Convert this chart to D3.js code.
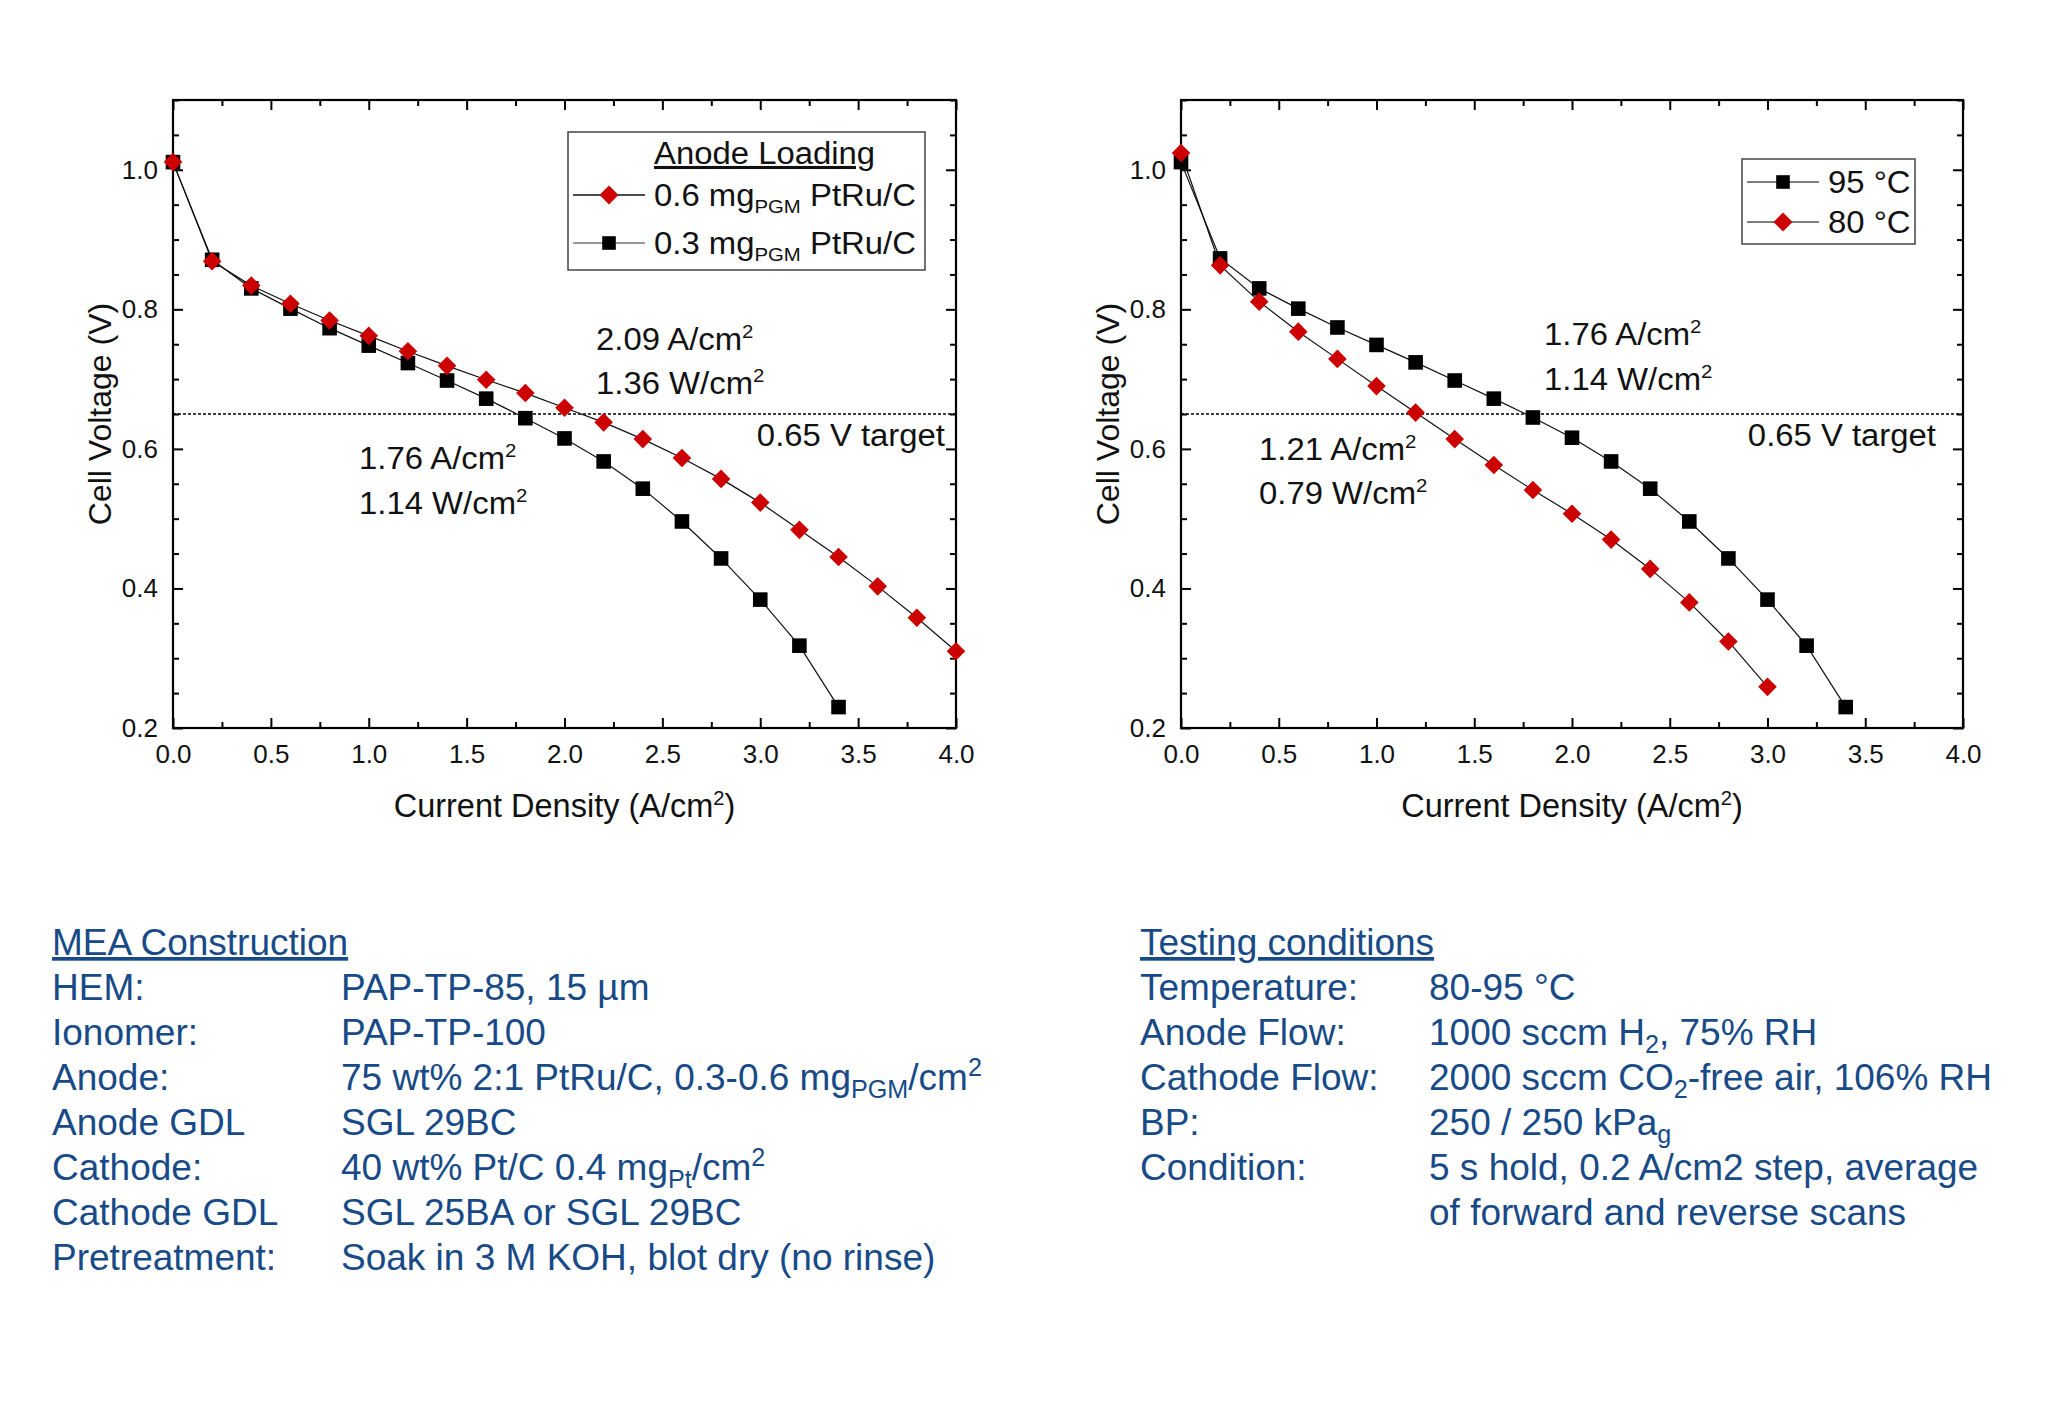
<!DOCTYPE html>
<html>
<head>
<meta charset="utf-8">
<script src="https://cdn.jsdelivr.net/npm/d3@7"></script>
<style>
  body { margin: 0; background: #fff; }
  svg text { font-family: "Liberation Sans", Arial, sans-serif; white-space: pre; }
</style>
</head>
<body>
<script>
var width = 2071,
	height = 1418;

// current density steps (A/cm2)
var jLoad06 = [0.0, 0.2, 0.4, 0.6, 0.8, 1.0, 1.2, 1.4, 1.6, 1.8, 2.0, 2.2, 2.4, 2.6, 2.8, 3.0, 3.2, 3.4, 3.6, 3.8, 4.0];
var jLoad03 = [0.0, 0.2, 0.4, 0.6, 0.8, 1.0, 1.2, 1.4, 1.6, 1.8, 2.0, 2.2, 2.4, 2.6, 2.8, 3.0, 3.2, 3.4];
var jT95 = [0.0, 0.2, 0.4, 0.6, 0.8, 1.0, 1.2, 1.4, 1.6, 1.8, 2.0, 2.2, 2.4, 2.6, 2.8, 3.0, 3.2, 3.4];
var jT80 = [0.0, 0.2, 0.4, 0.6, 0.8, 1.0, 1.2, 1.4, 1.6, 1.8, 2.0, 2.2, 2.4, 2.6, 2.8, 3.0];

// cell voltage (V)
var vLoad06 = [1.011, 0.869, 0.834, 0.808, 0.784, 0.762, 0.740, 0.719, 0.699, 0.680, 0.659, 0.638, 0.614, 0.587, 0.557, 0.523, 0.484, 0.445, 0.403, 0.358, 0.310];
var vLoad03 = [1.011, 0.871, 0.830, 0.801, 0.773, 0.748, 0.723, 0.698, 0.672, 0.644, 0.615, 0.582, 0.543, 0.496, 0.443, 0.384, 0.318, 0.230];
var vT95 = [1.011, 0.873, 0.830, 0.801, 0.774, 0.749, 0.724, 0.698, 0.672, 0.645, 0.616, 0.582, 0.543, 0.496, 0.443, 0.384, 0.318, 0.230];
var vT80 = [1.024, 0.863, 0.811, 0.768, 0.729, 0.690, 0.652, 0.614, 0.577, 0.541, 0.507, 0.470, 0.428, 0.380, 0.324, 0.259];

var xMajor = [0.0, 0.5, 1.0, 1.5, 2.0, 2.5, 3.0, 3.5, 4.0],
	yMajor = [0.2, 0.4, 0.6, 0.8, 1.0],
	target = 0.65;

var meaLabels = ["HEM:", "Ionomer:", "Anode:", "Anode GDL", "Cathode:", "Cathode GDL", "Pretreatment:"];
var meaValues = [
	["PAP-TP-85, 15 µm"],
	["PAP-TP-100"],
	["75 wt% 2:1 PtRu/C, 0.3-0.6 mg", ["PGM", "sub"], "/cm", ["2", "sup"]],
	["SGL 29BC"],
	["40 wt% Pt/C 0.4 mg", ["Pt", "sub"], "/cm", ["2", "sup"]],
	["SGL 25BA or SGL 29BC"],
	["Soak in 3 M KOH, blot dry (no rinse)"]
];
var testLabels = ["Temperature:", "Anode Flow:", "Cathode Flow:", "BP:", "Condition:", ""];
var testValues = [
	["80-95 °C"],
	["1000 sccm H", ["2", "sub"], ", 75% RH"],
	["2000 sccm CO", ["2", "sub"], "-free air, 106% RH"],
	["250 / 250 kPa", ["g", "sub"]],
	["5 s hold, 0.2 A/cm2 step, average"],
	["of forward and reverse scans"]
];

var red = "#cc0000",
	blue = "#174a87",
	stretch = 1.06;		// plot text looks a bit wide in the original

var svg = d3.select("body")
		.append("svg")
		.attr("width", width)
		.attr("height", height);

// text with sub / superscripts
var rich = function (sel, parts, size, small) {
	var shift = 0;
	small = small || 0.62;
	parts.forEach(function (p) {
		var t = typeof p === "string" ? p : p[0],
			k = typeof p === "string" ? null : p[1];
		var want = k === "sup" ? -0.38 * size : (k === "sub" ? 0.22 * size : 0);
		sel.append("tspan")
			.attr("dy", want - shift)
			.attr("font-size", k ? size * small : size)
			.text(t);
		shift = want;
	});
	return sel;
};

// plot text, stretched sideways from its anchor
var wide = function (g, x, y) {
	return g.append("text")
		.attr("transform", "translate(" + x + "," + y + ") scale(" + stretch + ",1)")
		.attr("fill", "#111");
};

var diamond = function (r) { return "M0," + (-r) + "L" + r + ",0L0," + r + "L" + (-r) + ",0Z"; };
var square = function (r) { return "M" + (-r) + "," + (-r) + "h" + 2 * r + "v" + 2 * r + "h" + (-2 * r) + "Z"; };

var drawPanel = function (p) {
	var x = d3.scaleLinear().domain([0, 4]).range([p.left, p.right]),
		y = d3.scaleLinear().domain([0.2, 1.1]).range([728, 100]);
	var g = svg.append("g");

	var xMinor = d3.range(0, 4.001, 0.25).filter(function (d) { return Math.abs(d * 2 - Math.round(d * 2)) > 0.01; }),
		yMinor = d3.range(0.2, 1.1001, 0.05).filter(function (d) { return Math.abs(d * 5 - Math.round(d * 5)) > 0.01; });

	var axes = [
		[d3.axisBottom(x).tickValues(xMajor).tickSize(-10).tickPadding(17).tickFormat(d3.format(".1f")), "translate(0,728)"],
		[d3.axisBottom(x).tickValues(xMinor).tickSize(-6).tickFormat(""), "translate(0,728)"],
		[d3.axisTop(x).tickValues(xMajor).tickSize(-10).tickFormat(""), "translate(0,100)"],
		[d3.axisTop(x).tickValues(xMinor).tickSize(-6).tickFormat(""), "translate(0,100)"],
		[d3.axisLeft(y).tickValues(yMajor).tickSize(-10).tickPadding(15).tickFormat(d3.format(".1f")), "translate(" + p.left + ",0)"],
		[d3.axisLeft(y).tickValues(yMinor).tickSize(-6).tickFormat(""), "translate(" + p.left + ",0)"],
		[d3.axisRight(y).tickValues(yMajor).tickSize(-10).tickFormat(""), "translate(" + p.right + ",0)"],
		[d3.axisRight(y).tickValues(yMinor).tickSize(-6).tickFormat(""), "translate(" + p.right + ",0)"]
	];
	axes.forEach(function (a) {
		var ax = g.append("g").attr("transform", a[1]).call(a[0]);
		ax.select(".domain").remove();
		ax.selectAll("line").attr("stroke", "#000").attr("stroke-width", 2);
		ax.selectAll("text").attr("font-size", 26).attr("fill", "#111")
			.attr("font-family", "Liberation Sans, Arial, sans-serif");
	});

	g.append("rect")
		.attr("x", p.left).attr("y", 100)
		.attr("width", p.right - p.left).attr("height", 628)
		.attr("fill", "none").attr("stroke", "#000").attr("stroke-width", 2.2);

	// target line
	g.append("line")
		.attr("x1", x(0)).attr("x2", x(4))
		.attr("y1", y(target)).attr("y2", y(target))
		.attr("stroke", "#000").attr("stroke-width", 1.5)
		.attr("stroke-dasharray", "3,2");

	var line = d3.line().x(function (d) { return x(d[0]); }).y(function (d) { return y(d[1]); });

	p.series.forEach(function (s) {
		var pts = d3.zip(s.j, s.v);
		g.append("path").attr("d", line(pts))
			.attr("fill", "none").attr("stroke", "#111").attr("stroke-width", 1.2);
		g.selectAll(null).data(pts).enter().append("path")
			.attr("transform", function (d) { return "translate(" + x(d[0]) + "," + y(d[1]) + ")"; })
			.attr("d", s.shape === "diamond" ? diamond(9.3) : square(7.3))
			.attr("fill", s.color);
	});

	// axis titles
	rich(g.append("text").attr("x", (p.left + p.right) / 2).attr("y", 817)
		.attr("text-anchor", "middle").attr("fill", "#111"),
		["Current Density (A/cm", ["2", "sup"], ")"], 32.5);
	g.append("text")
		.attr("transform", "translate(" + (p.left - 62) + ",414) rotate(-90)")
		.attr("text-anchor", "middle").attr("font-size", 32).attr("fill", "#111")
		.text("Cell Voltage (V)");

	// annotations
	p.notes.forEach(function (n) {
		rich(wide(g, n.x, n.y), n.parts, 31);
	});
	wide(g, p.right - p.targetPad, 446).attr("text-anchor", "end")
		.attr("font-size", 31).text("0.65 V target");

	// legend
	var L = p.legend;
	g.append("rect").attr("x", L.x).attr("y", L.y).attr("width", L.w).attr("height", L.h)
		.attr("fill", "#fff").attr("stroke", "#444").attr("stroke-width", 1.5);
	if (L.title)
		wide(g, L.x + 86, L.y + 32).attr("font-size", 31)
			.style("text-decoration", "underline").text(L.title);
	L.items.forEach(function (it, i) {
		var cy = L.rowY[i];
		g.append("line").attr("x1", L.x + 5).attr("x2", L.x + 77).attr("y1", cy).attr("y2", cy)
			.attr("stroke", it.lineColor).attr("stroke-width", 1.5);
		g.append("path").attr("transform", "translate(" + (L.x + 41) + "," + cy + ")")
			.attr("d", it.shape === "diamond" ? diamond(9.5) : square(6.8))
			.attr("fill", it.color);
		rich(wide(g, L.x + 86, cy + 11), it.parts, 31);
	});
};

drawPanel({
	left: 173, right: 956, targetPad: 11,
	series: [
		{ j: jLoad03, v: vLoad03, shape: "square", color: "#000" },
		{ j: jLoad06, v: vLoad06, shape: "diamond", color: red }
	],
	notes: [
		{ x: 596, y: 350, parts: ["2.09 A/cm", ["2", "sup"]] },
		{ x: 596, y: 394, parts: ["1.36 W/cm", ["2", "sup"]] },
		{ x: 359, y: 469, parts: ["1.76 A/cm", ["2", "sup"]] },
		{ x: 359, y: 514, parts: ["1.14 W/cm", ["2", "sup"]] }
	],
	legend: {
		x: 568, y: 132, w: 357, h: 138, title: "Anode Loading",
		rowY: [195, 243],
		items: [
			{ shape: "diamond", color: red, lineColor: "#111", parts: ["0.6 mg", ["PGM", "sub"], " PtRu/C"] },
			{ shape: "square", color: "#000", lineColor: "#777", parts: ["0.3 mg", ["PGM", "sub"], " PtRu/C"] }
		]
	}
});

drawPanel({
	left: 1181, right: 1963, targetPad: 27,
	series: [
		{ j: jT95, v: vT95, shape: "square", color: "#000" },
		{ j: jT80, v: vT80, shape: "diamond", color: red }
	],
	notes: [
		{ x: 1544, y: 345, parts: ["1.76 A/cm", ["2", "sup"]] },
		{ x: 1544, y: 390, parts: ["1.14 W/cm", ["2", "sup"]] },
		{ x: 1259, y: 460, parts: ["1.21 A/cm", ["2", "sup"]] },
		{ x: 1259, y: 504, parts: ["0.79 W/cm", ["2", "sup"]] }
	],
	legend: {
		x: 1742, y: 159, w: 173, h: 85, title: null,
		rowY: [182, 222],
		items: [
			{ shape: "square", color: "#000", lineColor: "#555", parts: ["95 °C"] },
			{ shape: "diamond", color: red, lineColor: "#555", parts: ["80 °C"] }
		]
	}
});

// text blocks under the charts
var block = function (x0, x1, title, labels, values) {
	var g = svg.append("g").attr("fill", blue);
	g.append("text").attr("x", x0).attr("y", 955).attr("font-size", 37)
		.style("text-decoration", "underline").text(title);
	labels.forEach(function (lab, i) {
		var yy = 1000 + i * 45;
		g.append("text").attr("x", x0).attr("y", yy).attr("font-size", 37).text(lab);
		rich(g.append("text").attr("x", x1).attr("y", yy), values[i], 37, 0.68);
	});
};
block(52, 341, "MEA Construction", meaLabels, meaValues);
block(1140, 1429, "Testing conditions", testLabels, testValues);
</script>
</body>
</html>
